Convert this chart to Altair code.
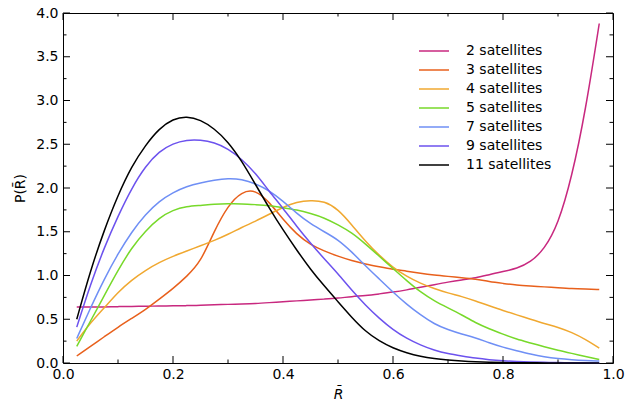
import altair as alt
import pandas as pd

R = [round(0.025 * i, 3) for i in range(1, 40)]

sat2 = [0.64, 0.64, 0.64, 0.645, 0.645, 0.65, 0.65, 0.655, 0.655, 0.66,
        0.665, 0.67, 0.675, 0.68, 0.69, 0.70, 0.71, 0.72, 0.73, 0.74,
        0.76, 0.77, 0.79, 0.81, 0.835, 0.865, 0.895, 0.925, 0.95, 0.97,
        1.01, 1.045, 1.08, 1.15, 1.30, 1.58, 2.12, 2.88, 3.88]
sat3 = [0.08, 0.19, 0.30, 0.41, 0.51, 0.61, 0.73, 0.85, 0.99, 1.15,
        1.51, 1.80, 1.96, 1.98, 1.84, 1.64, 1.47, 1.35, 1.28, 1.22,
        1.17, 1.13, 1.10, 1.07, 1.05, 1.025, 1.005, 0.99, 0.975, 0.96,
        0.93, 0.91, 0.89, 0.88, 0.87, 0.86, 0.85, 0.845, 0.84]
sat4 = [0.25, 0.46, 0.63, 0.81, 0.95, 1.06, 1.15, 1.22, 1.28, 1.34,
        1.40, 1.47, 1.55, 1.62, 1.70, 1.78, 1.84, 1.86, 1.85, 1.76,
        1.58, 1.39, 1.23, 1.09, 0.99, 0.91, 0.85, 0.80, 0.76, 0.71,
        0.655, 0.60, 0.55, 0.50, 0.45, 0.41, 0.35, 0.27, 0.17]
sat5 = [0.19, 0.48, 0.77, 1.06, 1.32, 1.51, 1.66, 1.75, 1.79, 1.80,
        1.815, 1.82, 1.82, 1.81, 1.80, 1.775, 1.75, 1.71, 1.66, 1.58,
        1.49, 1.36, 1.22, 1.08, 0.94, 0.81, 0.71, 0.63, 0.55, 0.46,
        0.39, 0.33, 0.27, 0.23, 0.185, 0.145, 0.11, 0.075, 0.04]
sat7 = [0.28, 0.63, 0.96, 1.25, 1.50, 1.70, 1.85, 1.95, 2.02, 2.06,
        2.09, 2.11, 2.10, 2.05, 1.97, 1.85, 1.71, 1.59, 1.50, 1.41,
        1.27, 1.11, 0.96, 0.81, 0.67, 0.55, 0.445, 0.38, 0.33, 0.29,
        0.23, 0.18, 0.14, 0.10, 0.07, 0.05, 0.037, 0.028, 0.022]
sat9 = [0.41, 0.90, 1.32, 1.68, 2.00, 2.25, 2.42, 2.51, 2.55, 2.55,
        2.52, 2.45, 2.33, 2.17, 1.96, 1.77, 1.56, 1.37, 1.19, 1.02,
        0.83, 0.66, 0.51, 0.38, 0.28, 0.205, 0.145, 0.105, 0.08, 0.055,
        0.037, 0.025, 0.017, 0.011, 0.007, 0.005, 0.003, 0.002, 0.001]
sat11 = [0.50, 1.06, 1.52, 1.92, 2.25, 2.49, 2.68, 2.79, 2.82, 2.78,
         2.68, 2.53, 2.31, 2.04, 1.77, 1.52, 1.29, 1.07, 0.88, 0.70,
         0.52, 0.36, 0.25, 0.17, 0.115, 0.075, 0.05, 0.033, 0.021, 0.013,
         0.008, 0.005, 0.003, 0.002, 0.001, 0.001, 0.0, 0.0, 0.0]

names = ["2 satellites", "3 satellites", "4 satellites", "5 satellites",
         "7 satellites", "9 satellites", "11 satellites"]
colors = ["#c8287f", "#e8601c", "#f0a830", "#77d92a", "#6f8ff5", "#6c52ee", "#000000"]
series = [sat2, sat3, sat4, sat5, sat7, sat9, sat11]

x_major = [0.0, 0.2, 0.4, 0.6, 0.8, 1.0]
x_minor = [0.1, 0.3, 0.5, 0.7, 0.9]
y_major = [0.0, 0.5, 1.0, 1.5, 2.0, 2.5, 3.0, 3.5, 4.0]
y_minor = [0.25, 0.75, 1.25, 1.75, 2.25, 2.75, 3.25, 3.75]

rows = []
for name, vals in zip(names, series):
    for r, p in zip(R, vals):
        rows.append({"R": r, "P": p, "series": name})
df = pd.DataFrame(rows)

W, H = 550, 350
FONT = "DejaVu Sans"
xs = alt.Scale(domain=[0, 1], nice=False, zero=False)
ys = alt.Scale(domain=[0, 4], nice=False, zero=False)

x_axis = alt.Axis(
    orient="bottom", values=x_major, format=".1f", ticks=False, domain=False,
    grid=False, labelFont=FONT, labelFontSize=14, labelColor="black",
    labelPadding=4, labelFlush=False, title="R̄", titleFont=FONT,
    titleFontSize=14, titleFontStyle="italic", titleFontWeight="normal",
    titleColor="black", titlePadding=6)
y_axis = alt.Axis(
    orient="left", values=y_major, format=".1f", ticks=False, domain=False,
    grid=False, labelFont=FONT, labelFontSize=14, labelColor="black",
    labelPadding=5, labelFlush=False, title="P(R̄)", titleFont=FONT,
    titleFontSize=14, titleFontWeight="normal", titleColor="black",
    titlePadding=8)

lines = alt.Chart(df).mark_line(strokeWidth=1.5, interpolate="basis").encode(
    x=alt.X("R:Q", scale=xs, axis=x_axis),
    y=alt.Y("P:Q", scale=ys, axis=y_axis),
    color=alt.Color("series:N", sort=names,
                    scale=alt.Scale(domain=names, range=colors),
                    legend=alt.Legend(
                        title=None, orient="none", legendX=364, legendY=31,
                        symbolType="M-3,0L3,0", symbolSize=100,
                        symbolStrokeWidth=1.5,
                        labelFont=FONT, labelFontSize=14, labelColor="black",
                        labelOffset=25, rowPadding=5, padding=0)),
)


def xticks(vals, length):
    d = pd.DataFrame({"R": vals})
    bottom = alt.Chart(d).mark_rule(color="black", strokeWidth=1).encode(
        x=alt.X("R:Q", scale=xs),
        y=alt.value(H), y2=alt.value(H - length))
    top = alt.Chart(d).mark_rule(color="black", strokeWidth=1).encode(
        x=alt.X("R:Q", scale=xs),
        y=alt.value(0), y2=alt.value(length))
    return [bottom, top]


def yticks(vals, length):
    d = pd.DataFrame({"P": vals})
    left = alt.Chart(d).mark_rule(color="black", strokeWidth=1).encode(
        y=alt.Y("P:Q", scale=ys),
        x=alt.value(0), x2=alt.value(length))
    right = alt.Chart(d).mark_rule(color="black", strokeWidth=1).encode(
        y=alt.Y("P:Q", scale=ys),
        x=alt.value(W), x2=alt.value(W - length))
    return [left, right]


tick_layers = (xticks(x_major, 7) + xticks(x_minor, 3.5)
               + yticks(y_major, 7) + yticks(y_minor, 3.5))

chart = alt.layer(lines, *tick_layers).properties(
    width=W, height=H,
    autosize=alt.AutoSizeParams(type="none"),
    padding={"left": 55, "top": 5, "right": 15, "bottom": 38},
).configure_view(stroke="black", strokeWidth=1)

chart.save("out.html", embed_options={"renderer": "svg", "actions": False})
